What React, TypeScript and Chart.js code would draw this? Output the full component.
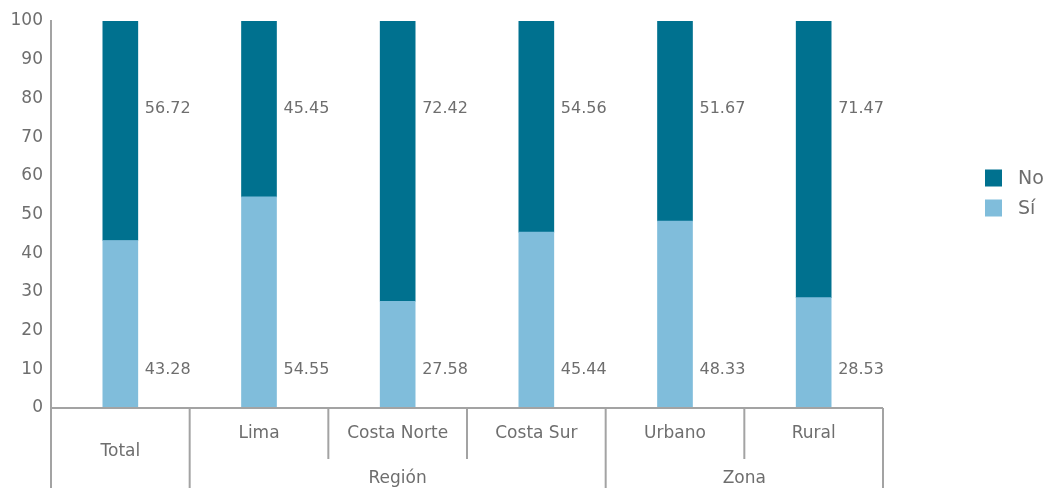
import React, { useEffect, useRef } from "react";
import { Chart, registerables } from "chart.js";

Chart.register(...registerables);

const categories = ["Total", "Lima", "Costa Norte", "Costa Sur", "Urbano", "Rural"];
const groups = [
  { label: "", from: 0, to: 0 },
  { label: "Región", from: 1, to: 3 },
  { label: "Zona", from: 4, to: 5 },
];
const siValues = [43.28, 54.55, 27.58, 45.44, 48.33, 28.53];
const noValues = [56.72, 45.45, 72.42, 54.56, 51.67, 71.47];
const seriesNames = ["No", "Sí"];
const yMin = 0;
const yMax = 100;
const yStep = 10;

const COLOR_NO = "#00718f";
const COLOR_SI = "#80bddb";
const TEXT = "#6e6e6e";
const LINE = "#a3a3a3";
const FONT = "'DejaVu Sans', sans-serif";

const overlayPlugin = {
  id: "overlay",
  afterDraw(chart: any) {
    const ctx = chart.ctx as CanvasRenderingContext2D;
    const { left, right, bottom } = chart.chartArea;
    const xs = chart.scales.x;
    const ys = chart.scales.y;
    const n = categories.length;
    const cw = (right - left) / n;
    const H = chart.height;
    ctx.save();
    // axis lines
    ctx.strokeStyle = LINE;
    ctx.lineWidth = 2;
    ctx.beginPath();
    ctx.moveTo(left, bottom);
    ctx.lineTo(right, bottom);
    ctx.stroke();
    const groupEdges = new Set<number>();
    groups.forEach((g) => {
      groupEdges.add(g.from);
      groupEdges.add(g.to + 1);
    });
    for (let i = 0; i <= n; i++) {
      const x = left + i * cw;
      const y2 = groupEdges.has(i) ? H : bottom + 51;
      ctx.beginPath();
      ctx.moveTo(x, bottom);
      ctx.lineTo(x, y2);
      ctx.stroke();
    }
    // category labels
    ctx.fillStyle = TEXT;
    ctx.font = `17px ${FONT}`;
    ctx.textAlign = "center";
    ctx.textBaseline = "middle";
    groups.forEach((g) => {
      for (let i = g.from; i <= g.to; i++) {
        const cx = xs.getPixelForValue(i);
        const y = g.label ? bottom + 26 : bottom + 44;
        ctx.fillText(categories[i], cx, y);
      }
      if (g.label) {
        const gx = left + ((g.from + g.to + 1) / 2) * cw;
        ctx.fillText(g.label, gx, bottom + 71);
      }
    });
    // value labels
    ctx.font = `16px ${FONT}`;
    ctx.textAlign = "left";
    const meta0 = chart.getDatasetMeta(0);
    categories.forEach((_, i) => {
      const bar = meta0.data[i];
      const bx = bar.x + bar.width / 2 + 7;
      ctx.fillText(noValues[i].toFixed(2), bx, ys.getPixelForValue(77.2));
      ctx.fillText(siValues[i].toFixed(2), bx, ys.getPixelForValue(9.8));
    });
    // legend
    const lx = 985;
    const ly = [178, 208];
    const cols = [COLOR_NO, COLOR_SI];
    ctx.font = `19px ${FONT}`;
    seriesNames.forEach((name, k) => {
      ctx.fillStyle = cols[k];
      ctx.fillRect(lx, ly[k] - 8.5, 17, 17);
      ctx.fillStyle = TEXT;
      ctx.fillText(name, lx + 33, ly[k] + 1);
    });
    ctx.restore();
  },
};

export default function App() {
  const ref = useRef<HTMLCanvasElement>(null);
  useEffect(() => {
    if (!ref.current) return;
    const chart = new Chart(ref.current, {
      type: "bar",
      data: {
        labels: categories,
        datasets: [
          { label: seriesNames[1], data: siValues, backgroundColor: COLOR_SI, barThickness: 35 },
          { label: seriesNames[0], data: noValues, backgroundColor: COLOR_NO, barThickness: 35 },
        ],
      },
      options: {
        responsive: false,
        animation: false,
        devicePixelRatio: 1,
        layout: { padding: { left: 0, right: 168, top: 21, bottom: 80 } },
        plugins: { legend: { display: false }, tooltip: { enabled: false } },
        scales: {
          x: { stacked: true, display: false, offset: true },
          y: {
            stacked: true,
            min: yMin,
            max: yMax,
            grid: { display: false, drawTicks: false },
            border: { display: true, color: LINE, width: 2 },
            ticks: {
              stepSize: yStep,
              padding: 8,
              color: TEXT,
              font: { family: "'DejaVu Sans', sans-serif", size: 17 },
            },
            afterFit: (s: any) => {
              s.width = 51;
            },
          },
        },
      },
      plugins: [overlayPlugin],
    });
    return () => chart.destroy();
  }, []);
  return (
    <div style={{ position: "absolute", left: 0, top: 0, width: 1051, height: 488, background: "#fff" }}>
      <canvas ref={ref} width={1051} height={488} />
    </div>
  );
}
